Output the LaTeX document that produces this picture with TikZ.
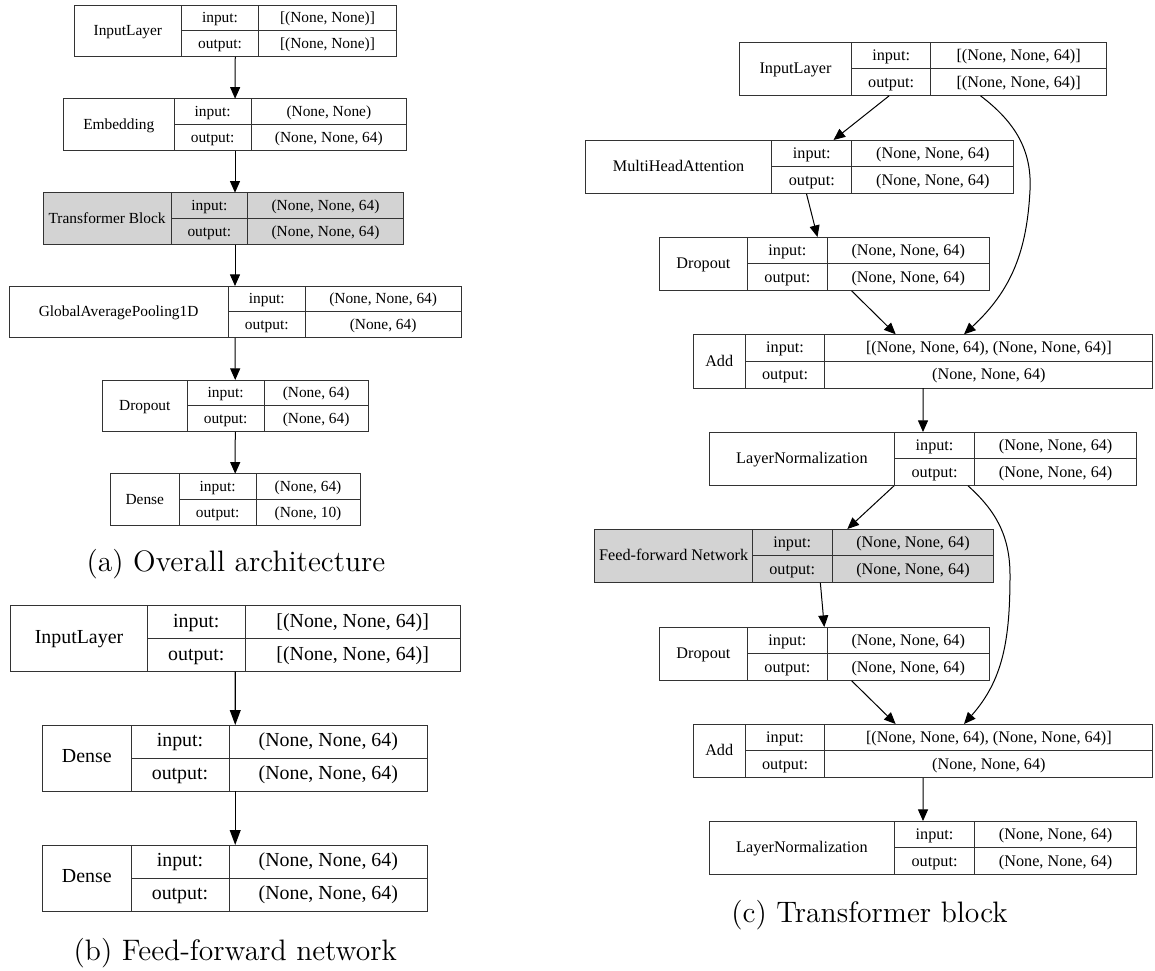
\documentclass[tikz,border=0pt]{standalone}
\usepackage{fontspec}
\usetikzlibrary{arrows.meta, calc}
\newfontfamily\gvfont{Liberation Serif}
\definecolor{gvgray}{RGB}{211,211,211}

\tikzset{
    cell/.style={draw=black!80, line width=0.5pt, inner sep=0pt, outer sep=0pt,
        text height=0.68em, text depth=0.2em},
    rec/.style={inner sep=0pt, outer sep=0pt},
    arr/.style={-{Triangle[length=5.8pt,width=5pt]}, line width=0.5pt},
    bigarr/.style={-{Triangle[length=7.5pt,width=5.4pt]}, line width=0.65pt},
    caption/.style={font=\fontsize{14.8}{17}\selectfont}
}

% one layer record: name, north west corner, three cell widths, fill, label, input, output
\newcommand{\kerasbox}[9]{%
    \node[rec, #6, minimum width={(#3+#4+#5)*0.5pt}, minimum height={2*\rowh}, anchor=north west] (#1) at #2 {};
    \node[cell, minimum width={#3*0.5pt}, minimum height={2*\rowh}, anchor=north west] (#1-name) at (#1.north west) {#7};
    \node[cell, minimum width={#4*0.5pt}, minimum height={\rowh}, anchor=north west] (#1-in) at (#1-name.north east) {input:};
    \node[cell, minimum width={#4*0.5pt}, minimum height={\rowh}, anchor=north west] (#1-out) at (#1-in.south west) {output:};
    \node[cell, minimum width={#5*0.5pt}, minimum height={\rowh}, anchor=north west] (#1-ins) at (#1-in.north east) {#8};
    \node[cell, minimum width={#5*0.5pt}, minimum height={\rowh}, anchor=north west] (#1-outs) at (#1-ins.south west) {#9};
}

\begin{document}
\begin{tikzpicture}[x=0.5pt, y=-0.5pt]
    \useasboundingbox (0,0) rectangle (1155,970);

    % (a) Overall architecture
    \begin{scope}[font=\gvfont\fontsize{7.7}{9}\selectfont]
        \def\rowh{12.95pt}
        \kerasbox{ainp}{(74,5)}{107.7}{76.6}{138.4}{}{InputLayer}{[(None, None)]}{[(None, None)]}
        \kerasbox{aemb}{(63.3,98.7)}{111}{76.7}{155.7}{}{Embedding}{(None, None)}{(None, None, 64)}
        \kerasbox{atrf}{(43.3,192.7)}{127.7}{76.7}{155.6}{fill=gvgray}{Transformer Block}{(None, None, 64)}{(None, None, 64)}
        \kerasbox{agap}{(9,286)}{219.3}{77}{155.7}{}{GlobalAveragePooling1D}{(None, None, 64)}{(None, 64)}
        \kerasbox{adrop}{(102.3,380)}{85}{76.7}{104.3}{}{Dropout}{(None, 64)}{(None, 64)}
        \kerasbox{adense}{(110.3,473.7)}{69}{76.7}{104}{}{Dense}{(None, 64)}{(None, 10)}

        \draw[arr] (ainp) -- (aemb);
        \draw[arr] (aemb.south) -- (aemb.south |- atrf.north);
        \draw[arr] (agap.north |- atrf.south) -- (agap.north);
        \draw[arr] (agap) -- (adrop);
        \draw[arr] (adrop) -- (adense);
    \end{scope}
    \node[caption] (capa) at (235.9,564.5) {(a) Overall architecture};

    % (b) Feed-forward network
    \begin{scope}[font=\gvfont\fontsize{9.95}{12}\selectfont]
        \def\rowh{16.5pt}
        \kerasbox{binp}{(10.7,605.7)}{136.6}{98}{214.7}{}{InputLayer}{[(None, None, 64)]}{[(None, None, 64)]}
        \kerasbox{bden}{(42.7,725)}{88.3}{98}{198.7}{}{Dense}{(None, None, 64)}{(None, None, 64)}
        \kerasbox{bdenb}{(42.7,845)}{88.3}{98}{198.7}{}{Dense}{(None, None, 64)}{(None, None, 64)}

        \draw[bigarr] (binp) -- (bden);
        \draw[bigarr] (bden) -- (bdenb);
    \end{scope}
    \node[caption] (capb) at (235.3,953) {(b) Feed-forward network};

    % (c) Transformer block
    \begin{scope}[font=\gvfont\fontsize{8.1}{10}\selectfont]
        \def\rowh{13.45pt}
        \kerasbox{cinp}{(739.5,42)}{112}{79.3}{175.7}{}{InputLayer}{[(None, None, 64)]}{[(None, None, 64)]}
        \kerasbox{cmha}{(585.4,140)}{186.4}{80}{162.1}{}{MultiHeadAttention}{(None, None, 64)}{(None, None, 64)}
        \kerasbox{cdrop}{(659.4,237)}{88.1}{79.7}{162}{}{Dropout}{(None, None, 64)}{(None, None, 64)}
        \kerasbox{cadd}{(693.2,334.3)}{52}{79.7}{327.9}{}{Add}{[(None, None, 64), (None, None, 64)]}{(None, None, 64)}
        \kerasbox{cnorm}{(709.1,432)}{185.6}{79.7}{162.5}{}{LayerNormalization}{(None, None, 64)}{(None, None, 64)}
        \kerasbox{cffn}{(594.9,529)}{157.5}{79.7}{161.7}{fill=gvgray}{Feed-forward Network}{(None, None, 64)}{(None, None, 64)}
        \kerasbox{cdropb}{(659.4,627)}{88.1}{79.7}{162}{}{Dropout}{(None, None, 64)}{(None, None, 64)}
        \kerasbox{caddb}{(693.2,724)}{52}{79.7}{327.9}{}{Add}{[(None, None, 64), (None, None, 64)]}{(None, None, 64)}
        \kerasbox{cnormb}{(709.1,821)}{185.6}{79.7}{162.5}{}{LayerNormalization}{(None, None, 64)}{(None, None, 64)}

        \draw[arr] (cinp) -- (cmha);
        \draw[arr] (cmha) -- (cdrop);
        \draw[arr] (cdrop) -- (cadd);
        \draw[arr] (cadd) -- (cnorm);
        \draw[arr] ($(cnorm.south)+(-29,0)$) -- ($(cffn.north)+(53,0)$);
        \draw[arr] ($(cffn.south)+(26,0)$) -- (cdropb.north);
        \draw[arr] (cdropb) -- (caddb);
        \draw[arr] (caddb) -- (cnormb);

        % residual connections
        \draw[arr] ($(cinp.south)+(57.5,0)$)
            .. controls (1015,122) and (1032,150) .. (1030,190)
            .. controls (1027,250) and (1012,290) .. ($(cadd.north)+(41,0)$);
        \draw[arr] ($(cnorm.south)+(45,0)$)
            .. controls (995,510) and (1010,535) .. (1010,575)
            .. controls (1010,640) and (1003,680) .. ($(caddb.north)+(41,0)$);
    \end{scope}
    \node[caption] (capc) at (869.5,915) {(c) Transformer block};
\end{tikzpicture}
\end{document}
